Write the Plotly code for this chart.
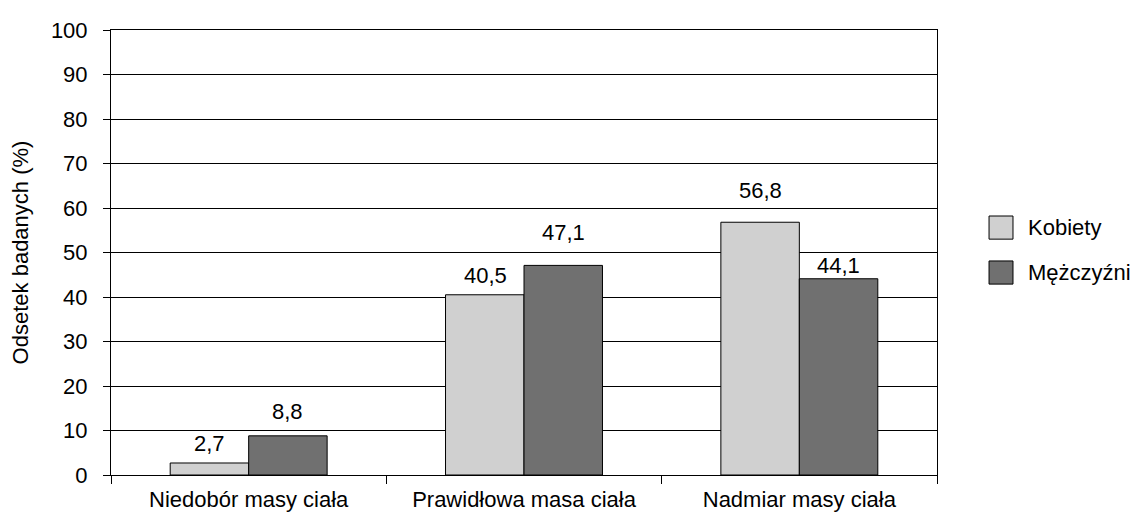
import plotly.graph_objects as go

categories = ["Niedobór masy ciała", "Prawidłowa masa ciała", "Nadmiar masy ciała"]
series_names = ["Kobiety", "Mężczyźni"]
kobiety = [2.7, 40.5, 56.8]
mezczyzni = [8.8, 47.1, 44.1]
y_title = "Odsetek badanych (%)"

# styles
colors = ["#d0d0d0", "#707070"]
label_offsets = [[19, 19, 32], [24, 33, 13]]  # px above bar top (label centre)
FONT = "Liberation Sans, Arial, sans-serif"
FS = 22
BODY = 8  # default page body margin

fig = go.Figure()
for name, vals, col in zip(series_names, [kobiety, mezczyzni], colors):
    fig.add_trace(go.Bar(x=categories, y=vals, name=name,
                         marker=dict(color=col, line=dict(color="black", width=1)),
                         showlegend=False))

# value labels above bars
for i, vals in enumerate([kobiety, mezczyzni]):
    shift = -39 if i == 0 else 39
    for c, v, off in zip(categories, vals, label_offsets[i]):
        fig.add_annotation(x=c, y=v, xref="x", yref="y", text=f"{v:.1f}".replace(".", ","),
                           showarrow=False, xshift=shift, yshift=off, yanchor="middle",
                           font=dict(family=FONT, size=FS, color="black"))

# custom legend
legend_y = [0.556, 0.455]
for name, col, yc in zip(series_names, colors, legend_y):
    fig.add_shape(type="rect", xref="paper", yref="paper",
                  x0=1.063, x1=1.092, y0=yc - 0.026, y1=yc + 0.026,
                  fillcolor=col, line=dict(color="black", width=1))
    fig.add_annotation(xref="paper", yref="paper", x=1.108, y=yc, text=name,
                       showarrow=False, xanchor="left", yanchor="middle",
                       font=dict(family=FONT, size=FS, color="black"))

fig.update_layout(
    width=1139 - BODY, height=518 - BODY,
    margin=dict(l=111 - BODY, r=202, t=30 - BODY, b=43, autoexpand=False),
    paper_bgcolor="white", plot_bgcolor="white",
    barmode="group", bargap=0.43, bargroupgap=0,
    font=dict(family=FONT, size=FS, color="black"),
    showlegend=False,
)
fig.update_xaxes(showline=True, linecolor="black", linewidth=1, mirror=True,
                 ticks="outside", tickson="boundaries", ticklen=8, tickcolor="black",
                 showgrid=False, tickfont=dict(size=FS), ticklabelstandoff=5,
                 automargin=False)
fig.update_yaxes(range=[0, 100], dtick=10, showline=True, linecolor="black", linewidth=1,
                 mirror=True, ticks="outside", ticklen=7, tickcolor="black",
                 showgrid=True, gridcolor="black", gridwidth=1, zeroline=False,
                 tickfont=dict(size=FS), ticklabelstandoff=11, automargin=False,
                 title=dict(text=y_title, standoff=18, font=dict(size=FS)))

fig.write_html("out.html")
